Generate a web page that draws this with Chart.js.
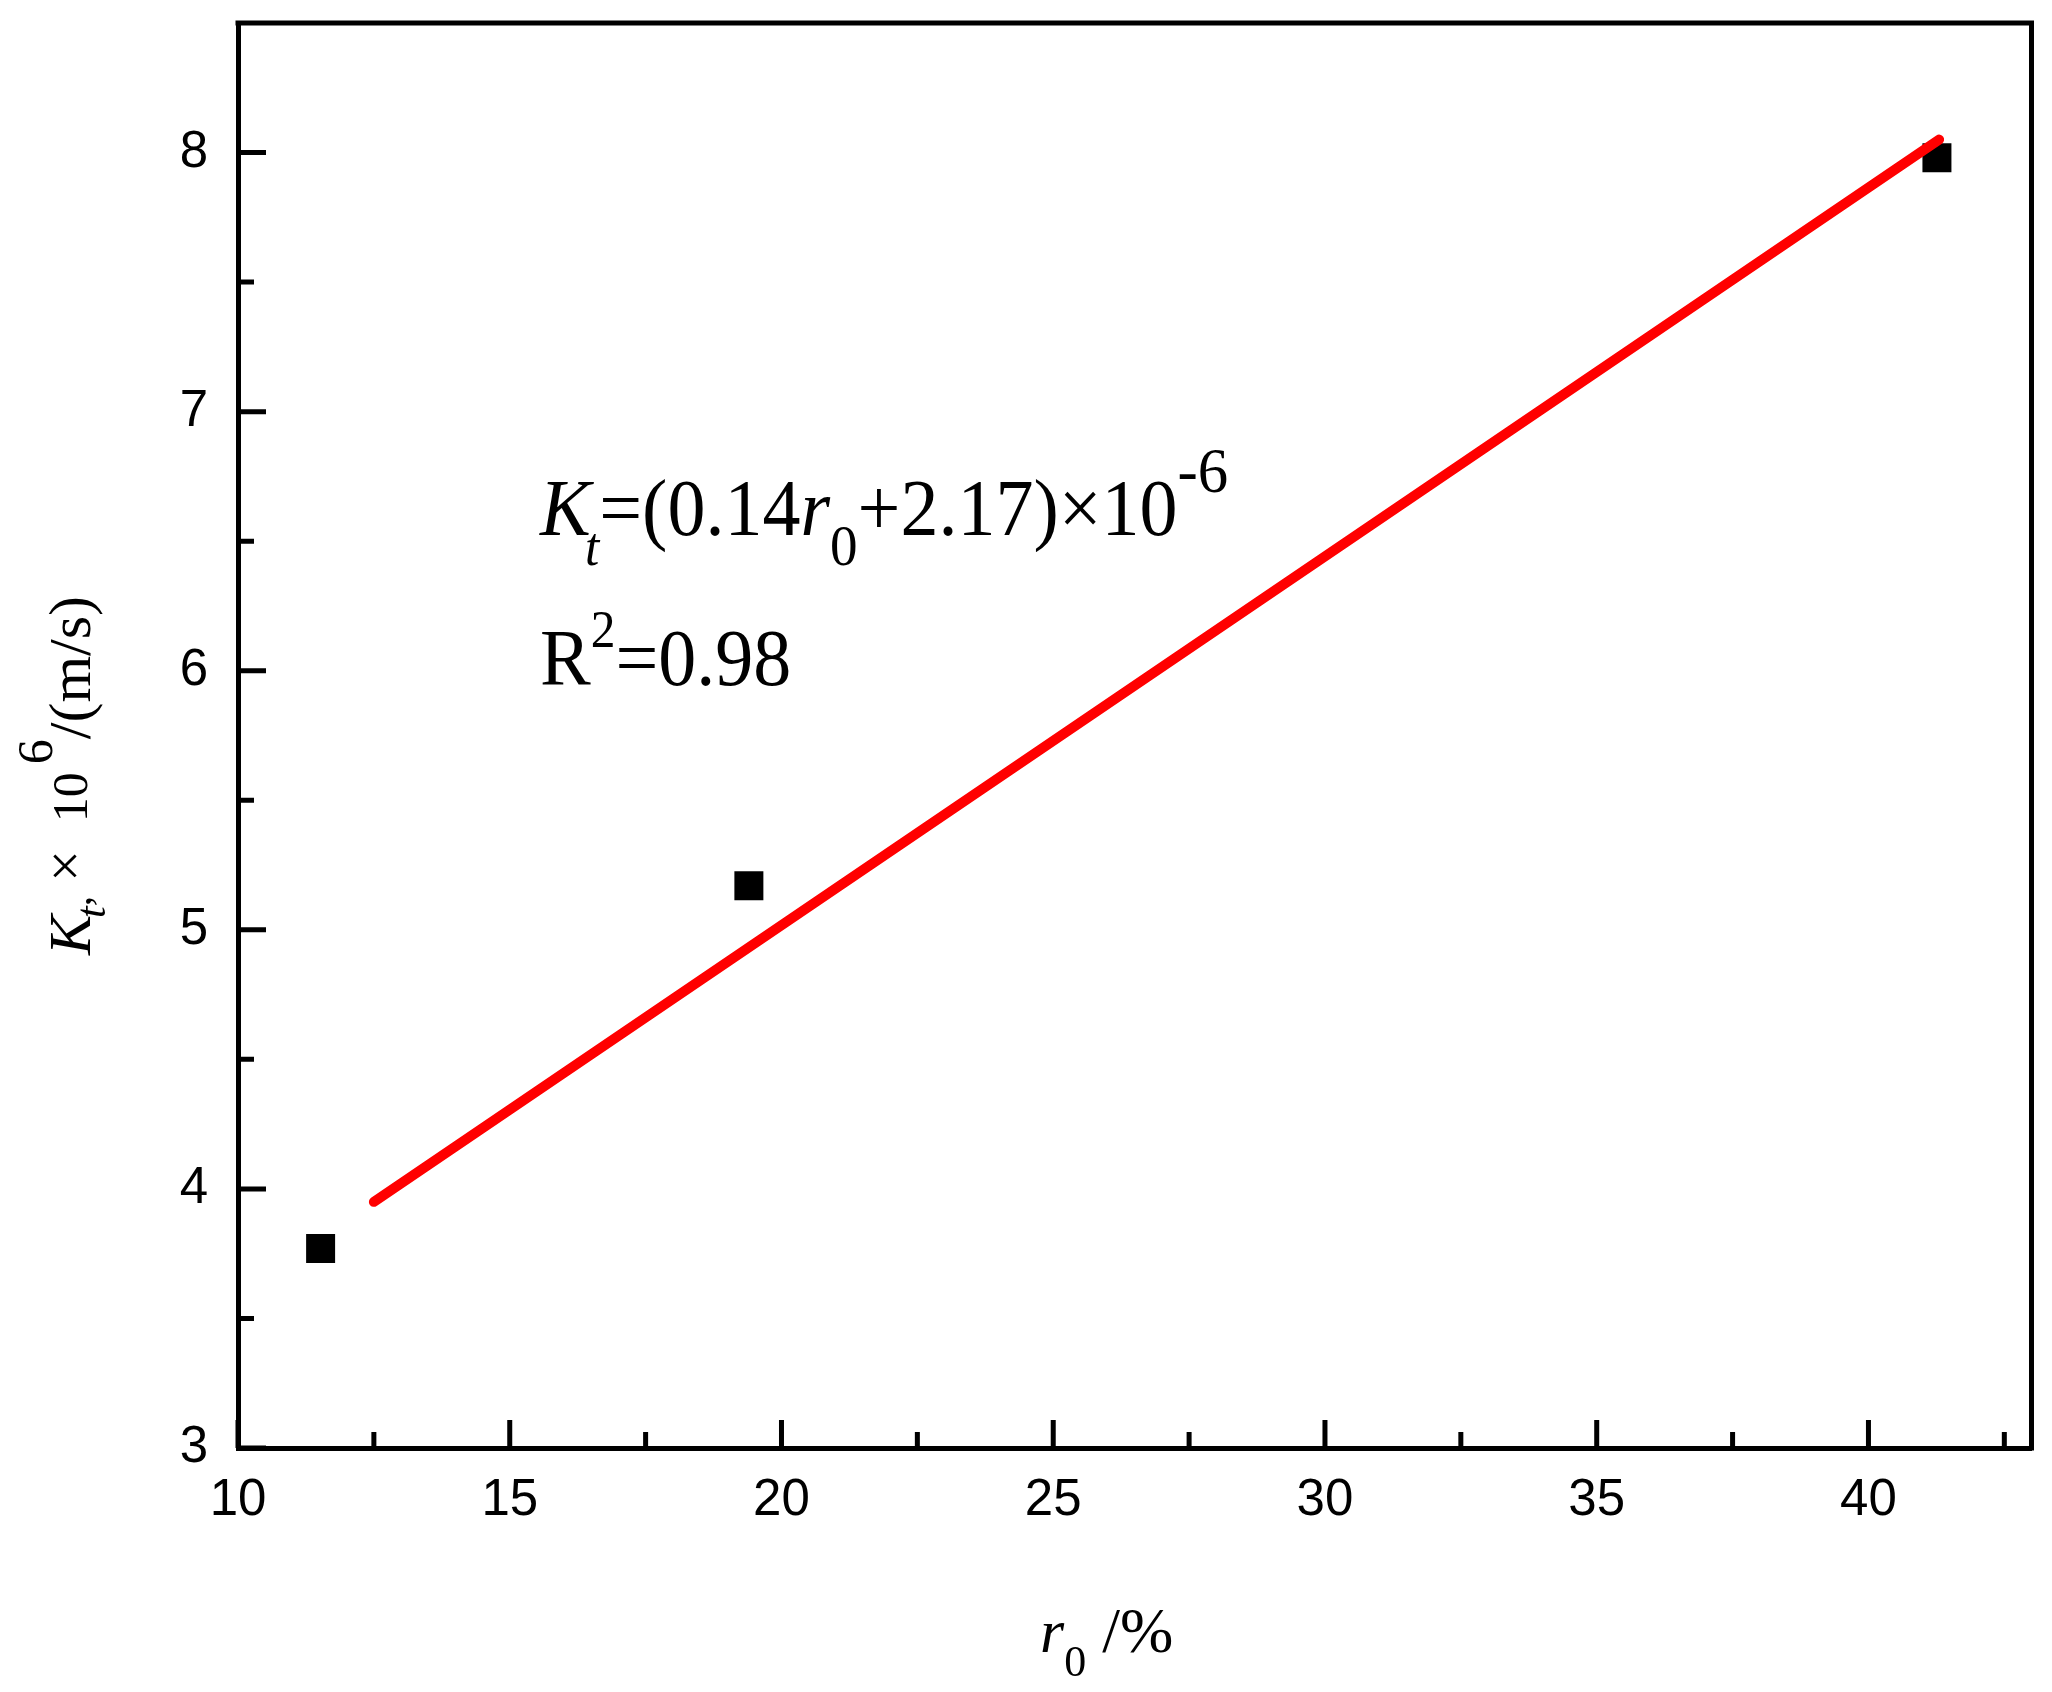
<!DOCTYPE html>
<html><head><meta charset="utf-8">
<script src="https://cdn.jsdelivr.net/npm/chart.js@4/dist/chart.umd.min.js"></script>
<style>html,body{margin:0;padding:0;background:#fff;}#wrap{width:2052px;height:1692px;position:relative;}</style>
</head><body><div id="wrap"><canvas id="c" width="2052" height="1692"></canvas></div>
<script>
// ---- data ----
const pointsX = [11.52, 19.40, 41.26];
const pointsY = [3.77, 5.17, 7.98];
const fitX = [12.5, 41.3];
const fitY = [3.95, 8.05];
const xMajorTicks = [10, 15, 20, 25, 30, 35, 40];
const xMinorTicks = [12.5, 17.5, 22.5, 27.5, 32.5, 37.5, 42.5];
const yMajorTicks = [3, 4, 5, 6, 7, 8];
const yMinorTicks = [3.5, 4.5, 5.5, 6.5, 7.5];
const xRange = [10, 43];
const yRange = [3, 8.5];

const SERIF = '"Liberation Serif", "Times New Roman", serif';
const SANS = '"Liberation Sans", Arial, sans-serif';

function drawRich(ctx, segs, sx) {
  ctx.save();
  ctx.scale(sx || 1, 1);
  ctx.textAlign = 'left';
  ctx.textBaseline = 'alphabetic';
  ctx.fillStyle = '#000';
  let cx = 0;
  for (const s of segs) {
    ctx.font = (s.italic ? 'italic ' : '') + s.size + 'px ' + SERIF;
    cx += (s.dx || 0);
    ctx.fillText(s.text, cx, s.dy || 0);
    cx += ctx.measureText(s.text).width;
  }
  ctx.restore();
}

const decor = {
  id: 'decor',
  afterDraw(chart) {
    const ctx = chart.ctx;
    const a = chart.chartArea;
    const xs = chart.scales.x, ys = chart.scales.y;
    ctx.save();
    ctx.strokeStyle = '#000';
    ctx.lineWidth = 5;
    ctx.lineCap = 'butt';
    // top and right frame lines
    ctx.beginPath();
    ctx.moveTo(a.left - 2.5, a.top); ctx.lineTo(a.right + 2.5, a.top);
    ctx.moveTo(a.right, a.top); ctx.lineTo(a.right, a.bottom + 2.5);
    ctx.stroke();
    // inward ticks
    ctx.beginPath();
    for (const v of xMajorTicks) { const p = xs.getPixelForValue(v); ctx.moveTo(p, a.bottom); ctx.lineTo(p, a.bottom - 28); }
    for (const v of xMinorTicks) { const p = xs.getPixelForValue(v); ctx.moveTo(p, a.bottom); ctx.lineTo(p, a.bottom - 16); }
    for (const v of yMajorTicks) { const p = ys.getPixelForValue(v); ctx.moveTo(a.left, p); ctx.lineTo(a.left + 28, p); }
    for (const v of yMinorTicks) { const p = ys.getPixelForValue(v); ctx.moveTo(a.left, p); ctx.lineTo(a.left + 16, p); }
    ctx.stroke();

    // equation text
    ctx.save();
    ctx.translate(a.left + 302, a.top + 512);
    drawRich(ctx, [
      {text: 'K', size: 80, italic: true},
      {text: 't', size: 54, italic: true, dy: 30, dx: -6},
      {text: '=(0.14', size: 80},
      {text: 'r', size: 80, italic: true},
      {text: '0', size: 58, dy: 30},
      {text: '+2.17)\u00D710', size: 80},
      {text: '-6', size: 64, dy: -43}
    ], 0.95);
    ctx.restore();
    ctx.save();
    ctx.translate(a.left + 302, a.top + 662);
    drawRich(ctx, [
      {text: 'R', size: 80},
      {text: '2', size: 52, dy: -38},
      {text: '=0.98', size: 80}
    ], 0.95);
    ctx.restore();

    // x axis title
    ctx.save();
    ctx.translate(1040, 1652);
    drawRich(ctx, [
      {text: 'r', size: 62, italic: true},
      {text: '0', size: 44, dy: 24},
      {text: ' /%', size: 64}
    ], 1);
    ctx.restore();

    // y axis title (rotated)
    ctx.save();
    ctx.translate(90, 955);
    ctx.rotate(-Math.PI / 2);
    drawRich(ctx, [
      {text: 'K', size: 60, italic: true},
      {text: 't', size: 42, italic: true, dy: 15, dx: -3},
      {text: ',', size: 42},
      {text: '\u00D7', size: 56, dy: -6, dx: 14},
      {text: '10', size: 50, dx: 28, dy: -3},
      {text: '6', size: 50, dy: -38, dx: 8},
      {text: '/(m/s)', size: 60}
    ], 1);
    ctx.restore();
    ctx.restore();
  }
};

new Chart(document.getElementById('c'), {
  type: 'scatter',
  data: {
    datasets: [
      {
        label: 'fit',
        type: 'line',
        data: fitX.map((x, i) => ({x: x, y: fitY[i]})),
        borderColor: '#ff0000',
        borderWidth: 10,
        borderCapStyle: 'round',
        pointRadius: 0,
        fill: false,
        tension: 0
      },
      {
        label: 'data',
        data: pointsX.map((x, i) => ({x: x, y: pointsY[i]})),
        pointStyle: 'rect',
        pointRadius: 20.5,
        backgroundColor: '#000',
        borderColor: '#000',
        borderWidth: 0
      }
    ]
  },
  options: {
    responsive: false,
    animation: false,
    devicePixelRatio: 1,
    layout: {padding: {left: 0, top: 23, right: 20, bottom: 0}},
    plugins: {legend: {display: false}, tooltip: {enabled: false}},
    scales: {
      x: {
        type: 'linear', position: 'bottom', min: xRange[0], max: xRange[1],
        afterBuildTicks: s => { s.ticks = xMajorTicks.map(v => ({value: v})); },
        afterFit: s => { s.height = 244; s.paddingLeft = 0; s.paddingRight = 0; },
        ticks: {font: {family: SANS, size: 51}, color: '#000', padding: 22, maxRotation: 0, autoSkip: false},
        grid: {display: false, drawTicks: false},
        border: {display: true, color: '#000', width: 5}
      },
      y: {
        type: 'linear', position: 'left', min: yRange[0], max: yRange[1],
        afterBuildTicks: s => { s.ticks = yMajorTicks.map(v => ({value: v})); },
        afterFit: s => { s.width = 238; s.paddingTop = 0; s.paddingBottom = 0; },
        ticks: {font: {family: SANS, size: 51}, color: '#000', padding: 30, autoSkip: false},
        grid: {display: false, drawTicks: false},
        border: {display: true, color: '#000', width: 5}
      }
    }
  },
  plugins: [decor]
});
</script></body></html>
